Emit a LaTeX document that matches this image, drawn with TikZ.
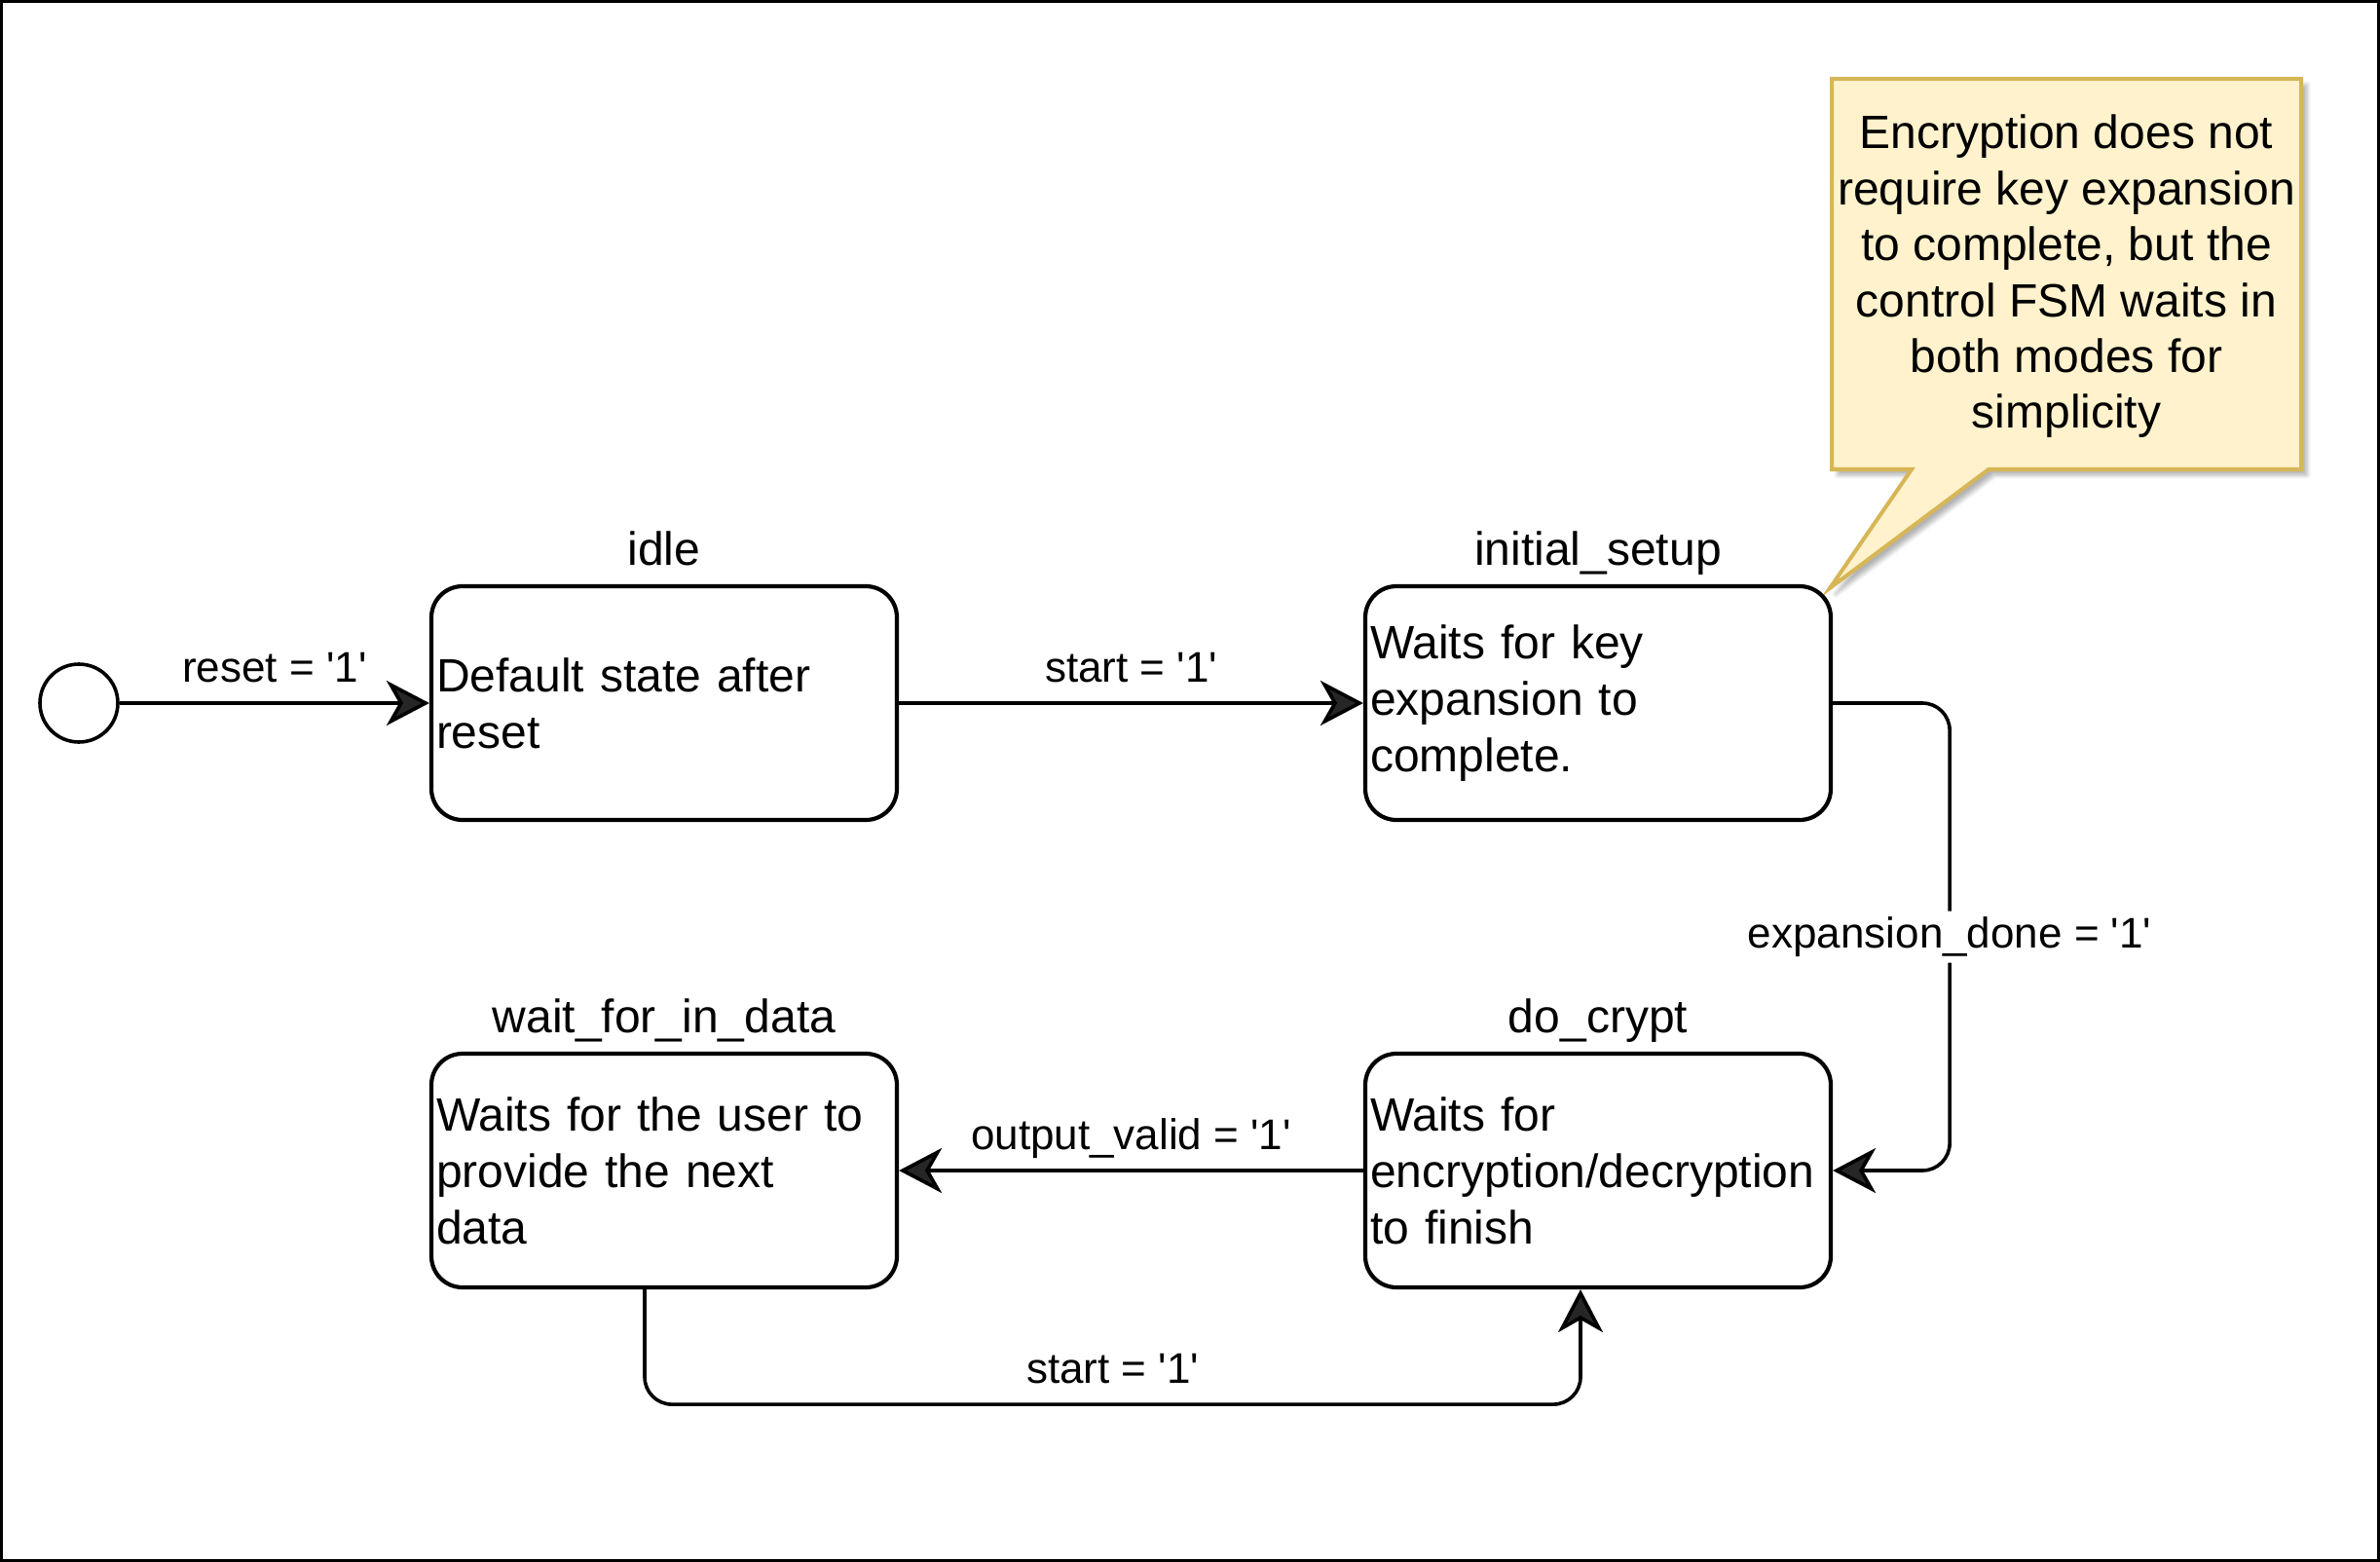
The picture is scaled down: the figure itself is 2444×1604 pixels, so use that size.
\documentclass[tikz,border=0pt]{standalone}
\usepackage{fontspec}
\setmainfont{Liberation Sans}
\usetikzlibrary{arrows.meta,shadows.blur}
\definecolor{notefill}{HTML}{FFF2CC}
\definecolor{notedraw}{HTML}{D6B656}
\newcommand{\sq}{\textquotesingle}
\begin{document}
\begin{tikzpicture}[x=0.5pt,y=-0.5pt,
  state/.style={draw, line width=2.1pt, rounded corners=16pt, minimum width=239pt, minimum height=120pt,
    text width=234pt, inner xsep=2.5pt, align=left, font=\fontsize{24pt}{29pt}\selectfont},
  stitle/.style={anchor=base, font=\fontsize{24pt}{29pt}\selectfont},
  edge/.style={line width=1.8pt, -{Stealth[length=22pt,width=23pt,inset=6.5pt]}},
  elabel/.style={font=\fontsize{22pt}{26pt}\selectfont, anchor=base, inner sep=0pt}
]
\useasboundingbox (0,0) rectangle (2444,1604);
\draw[line width=1.5pt] (1.5,1.5) rectangle (2442.5,1602.5);

% callout
\draw[line width=2pt, draw=notedraw, fill=notefill,
  blur shadow={shadow xshift=3pt, shadow yshift=-3pt, shadow opacity=30, shadow blur steps=6}]
  (1881,81) -- (2363,81) -- (2363,482) -- (2042,482) -- (1879,604) -- (1963,482) -- (1881,482) -- cycle;
\node[align=center, font=\fontsize{24pt}{28.7pt}\selectfont] (note) at (2122,284)
  {Encryption does not\\require key expansion\\to complete, but the\\control FSM waits in\\both modes for\\simplicity};

% states
\node[draw, circle, line width=1.8pt, minimum size=40pt, inner sep=0pt] (init) at (81,722) {};
\node[state] (idle) at (682,722) {Default state after\\reset};
\node[state] (setup) at (1641,722) {Waits for key\\expansion to\\complete.};
\node[state] (crypt) at (1641,1202) {Waits for\\encryption/decryption\\to finish};
\node[state] (wait) at (682,1202) {Waits for the user to\\provide the next\\data};

\node[stitle] (idlet) at ([yshift=9.5pt]idle.north) {idle};
\node[stitle] (setupt) at ([yshift=9.5pt]setup.north) {initial\_setup};
\node[stitle] (cryptt) at ([yshift=9.5pt]crypt.north) {do\_crypt};
\node[stitle] (waitt) at ([yshift=9.5pt]wait.north) {wait\_for\_in\_data};

% transitions
\draw[edge] (init) -- node[elabel, yshift=11pt] {reset = \sq1\sq} (idle);
\draw[edge] (idle) -- node[elabel, yshift=11pt] {start = \sq1\sq} (setup);
\draw[edge] (crypt) -- node[elabel, yshift=11pt] {output\_valid = \sq1\sq} (wait);
\draw[edge, rounded corners=14pt] (setup.east) -- ++(120,0) |- node[pos=0.25, fill=white, inner sep=3pt, font=\fontsize{22pt}{26pt}\selectfont] {expansion\_done = \sq1\sq} (crypt.east);
\draw[edge, rounded corners=14pt] ([xshift=-10pt]wait.south) -- ++(0,118) -| node[elabel, pos=0.25, yshift=11pt] {start = \sq1\sq} ([xshift=-9pt]crypt.south);
\end{tikzpicture}
\end{document}
